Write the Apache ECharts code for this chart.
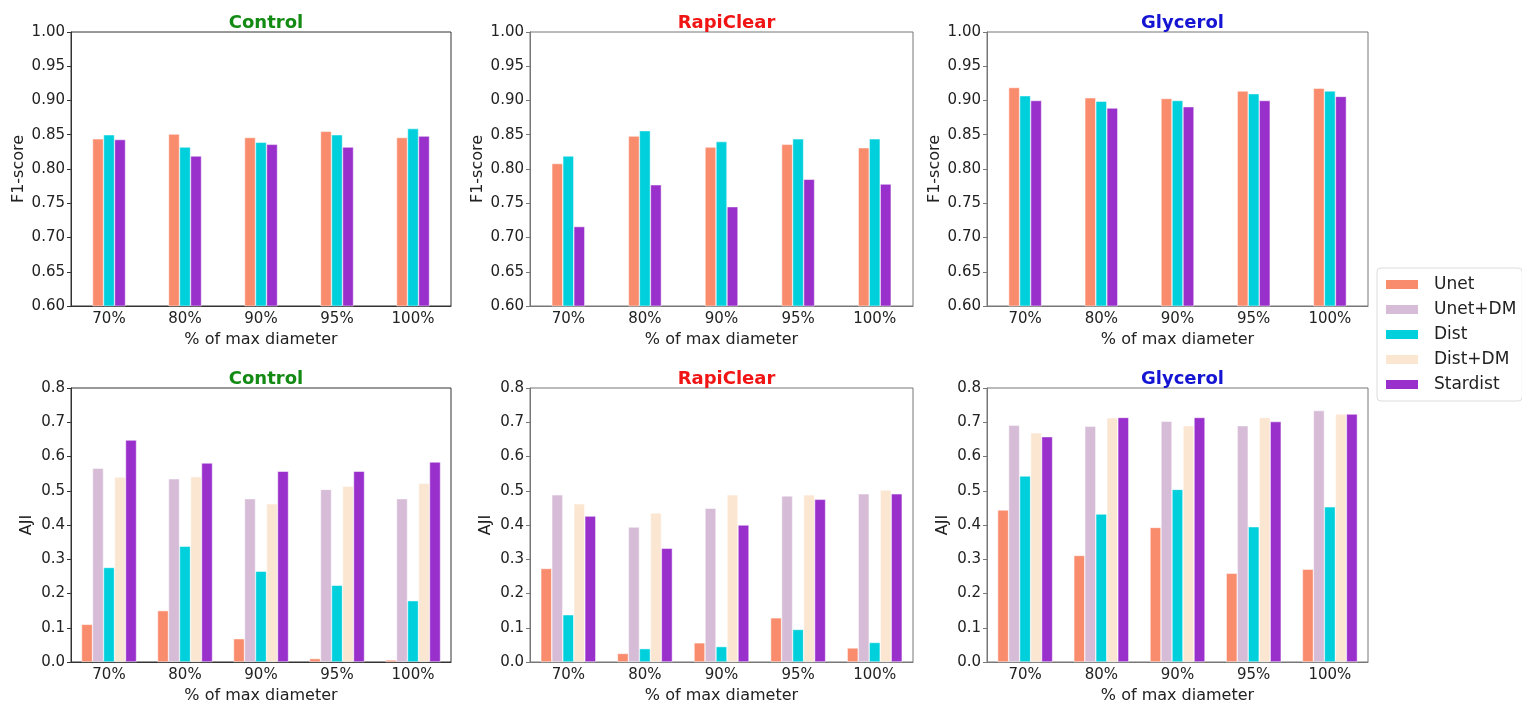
<!DOCTYPE html>
<html>
<head>
<meta charset="utf-8">
<script src="https://cdn.jsdelivr.net/npm/echarts@6/dist/echarts.min.js"></script>
<style>
  html, body { margin: 0; padding: 0; background: #fff; }
  #chart { width: 1522px; height: 705px; }
</style>
</head>
<body>
<div id="chart"></div>
<script>
// categories / tick labels
var categories = ['70%', '80%', '90%', '95%', '100%'];
var f1Ticks = [0.60, 0.65, 0.70, 0.75, 0.80, 0.85, 0.90, 0.95, 1.00];
var ajiTicks = [0.0, 0.1, 0.2, 0.3, 0.4, 0.5, 0.6, 0.7, 0.8];

// F1-score (top row): Unet, Dist, Stardist
var f1ControlUnet     = [0.844, 0.851, 0.846, 0.855, 0.846];
var f1ControlDist     = [0.850, 0.832, 0.839, 0.850, 0.859];
var f1ControlStardist = [0.843, 0.819, 0.836, 0.832, 0.848];

var f1RapiUnet     = [0.808, 0.848, 0.832, 0.836, 0.831];
var f1RapiDist     = [0.819, 0.856, 0.840, 0.844, 0.844];
var f1RapiStardist = [0.716, 0.777, 0.745, 0.785, 0.778];

var f1GlyUnet     = [0.919, 0.904, 0.903, 0.914, 0.918];
var f1GlyDist     = [0.907, 0.899, 0.900, 0.910, 0.914];
var f1GlyStardist = [0.900, 0.889, 0.891, 0.900, 0.906];

// AJI (bottom row): Unet, Unet+DM, Dist, Dist+DM, Stardist
var ajiControlUnet     = [0.110, 0.150, 0.068, 0.010, 0.006];
var ajiControlUnetDM   = [0.566, 0.535, 0.477, 0.504, 0.477];
var ajiControlDist     = [0.276, 0.338, 0.265, 0.224, 0.179];
var ajiControlDistDM   = [0.540, 0.541, 0.462, 0.513, 0.522];
var ajiControlStardist = [0.648, 0.581, 0.557, 0.557, 0.584];

var ajiRapiUnet     = [0.273, 0.025, 0.056, 0.129, 0.041];
var ajiRapiUnetDM   = [0.488, 0.394, 0.449, 0.485, 0.491];
var ajiRapiDist     = [0.138, 0.039, 0.045, 0.095, 0.057];
var ajiRapiDistDM   = [0.462, 0.435, 0.488, 0.488, 0.502];
var ajiRapiStardist = [0.426, 0.332, 0.400, 0.475, 0.491];

var ajiGlyUnet     = [0.444, 0.311, 0.393, 0.259, 0.271];
var ajiGlyUnetDM   = [0.691, 0.688, 0.703, 0.690, 0.734];
var ajiGlyDist     = [0.543, 0.432, 0.504, 0.395, 0.453];
var ajiGlyDistDM   = [0.669, 0.713, 0.690, 0.714, 0.724];
var ajiGlyStardist = [0.658, 0.714, 0.714, 0.702, 0.724];

var methodNames = ['Unet', 'Unet+DM', 'Dist', 'Dist+DM', 'Stardist'];
var methodColors = {
    'Unet': '#fa8c6e',
    'Unet+DM': '#d6bcd6',
    'Dist': '#00cfdc',
    'Dist+DM': '#fbe6d2',
    'Stardist': '#9a30cc'
};

var FONT = 'DejaVu Sans';

// panel boxes
var panels = [
    { title: 'Control',   color: '#138a13', box: [71, 32, 380, 274],  frame: '#333', kind: 'f1',
      series: [['Unet', f1ControlUnet], ['Dist', f1ControlDist], ['Stardist', f1ControlStardist]] },
    { title: 'RapiClear', color: '#f01414', box: [530, 32, 383, 274], frame: '#777', kind: 'f1',
      series: [['Unet', f1RapiUnet], ['Dist', f1RapiDist], ['Stardist', f1RapiStardist]] },
    { title: 'Glycerol',  color: '#1414d2', box: [987, 32, 381, 274], frame: '#777', kind: 'f1',
      series: [['Unet', f1GlyUnet], ['Dist', f1GlyDist], ['Stardist', f1GlyStardist]] },
    { title: 'Control',   color: '#138a13', box: [71, 388, 380, 275], frame: '#333', kind: 'aji',
      series: [['Unet', ajiControlUnet], ['Unet+DM', ajiControlUnetDM], ['Dist', ajiControlDist],
               ['Dist+DM', ajiControlDistDM], ['Stardist', ajiControlStardist]] },
    { title: 'RapiClear', color: '#f01414', box: [530, 388, 383, 275], frame: '#777', kind: 'aji',
      series: [['Unet', ajiRapiUnet], ['Unet+DM', ajiRapiUnetDM], ['Dist', ajiRapiDist],
               ['Dist+DM', ajiRapiDistDM], ['Stardist', ajiRapiStardist]] },
    { title: 'Glycerol',  color: '#1414d2', box: [987, 388, 381, 275], frame: '#777', kind: 'aji',
      series: [['Unet', ajiGlyUnet], ['Unet+DM', ajiGlyUnetDM], ['Dist', ajiGlyDist],
               ['Dist+DM', ajiGlyDistDM], ['Stardist', ajiGlyStardist]] }
];

var titles = [], grids = [], xAxes = [], yAxes = [], series = [];

panels.forEach(function (p, i) {
    var b = p.box;
    var isF1 = p.kind === 'f1';
    var ticks = isF1 ? f1Ticks : ajiTicks;

    titles.push({
        text: p.title,
        left: b[0] + b[2] / 2,
        top: b[1] - 23,
        textAlign: 'center',
        textStyle: { fontFamily: FONT, fontSize: 18, fontWeight: 'bold', color: p.color }
    });

    grids.push({
        left: b[0], top: b[1], width: b[2], height: b[3],
        show: true, borderColor: p.frame, borderWidth: 1, backgroundColor: 'transparent'
    });

    xAxes.push({
        type: 'category',
        gridIndex: i,
        data: categories,
        name: '% of max diameter',
        nameLocation: 'middle',
        nameGap: 26,
        nameTextStyle: { fontFamily: FONT, fontSize: 16, color: '#222' },
        axisLine: { lineStyle: { color: p.frame, width: 1 } },
        axisTick: { alignWithLabel: true, length: 4, lineStyle: { color: p.frame } },
        axisLabel: { fontFamily: FONT, fontSize: 15, color: '#222', margin: 6 },
        splitLine: { show: false }
    });

    yAxes.push({
        type: 'value',
        gridIndex: i,
        min: ticks[0],
        max: ticks[ticks.length - 1],
        interval: ticks[1] - ticks[0],
        name: isF1 ? 'F1-score' : 'AJI',
        nameLocation: 'middle',
        nameGap: isF1 ? 44 : 36,
        nameTextStyle: { fontFamily: FONT, fontSize: 16, color: '#222' },
        axisLine: { show: true, lineStyle: { color: p.frame, width: 1 } },
        axisTick: { show: true, length: 4, lineStyle: { color: p.frame } },
        axisLabel: {
            fontFamily: FONT, fontSize: 15, color: '#222', margin: 6,
            formatter: function (v) { return v.toFixed(isF1 ? 2 : 1); }
        },
        splitLine: { show: false }
    });

    p.series.forEach(function (s) {
        series.push({
            type: 'bar',
            name: s[0],
            xAxisIndex: i,
            yAxisIndex: i,
            data: s[1],
            barWidth: 11,
            barGap: '0%',
            itemStyle: { color: methodColors[s[0]], borderColor: '#fff', borderWidth: 0.5 },
            emphasis: { disabled: true }
        });
    });
});

var chart = echarts.init(document.getElementById('chart'));
chart.setOption({
    backgroundColor: '#fff',
    animation: false,
    title: titles,
    grid: grids,
    xAxis: xAxes,
    yAxis: yAxes,
    legend: {
        data: methodNames,
        icon: 'rect',
        orient: 'vertical',
        left: 1377,
        top: 268,
        itemWidth: 34,
        itemHeight: 11,
        itemGap: 8,
        padding: [8, 6, 8, 7],
        borderColor: '#dcdcdc',
        borderWidth: 1,
        borderRadius: 4,
        textStyle: { fontFamily: FONT, fontSize: 17, color: '#222', padding: [0, 0, 0, 10] }
    },
    series: series
});
</script>
</body>
</html>
